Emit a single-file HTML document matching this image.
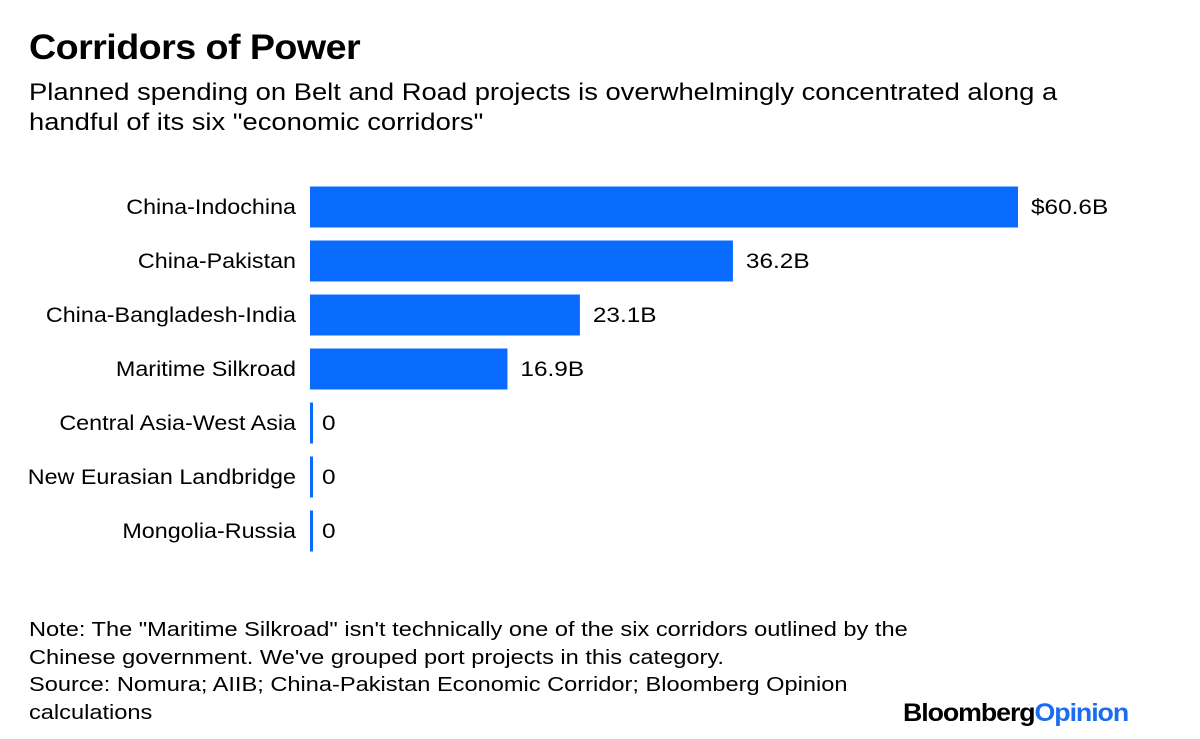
<!DOCTYPE html>
<html><head><meta charset="utf-8"><style>
body{margin:0;width:1200px;height:739px;background:#fff;font-family:"Liberation Sans",sans-serif;color:#000;position:relative;overflow:hidden}
.t{position:absolute;white-space:nowrap;transform-origin:0 0}
</style></head><body>
<div class="t" style="left:29px;top:28px;font-size:35px;font-weight:bold;letter-spacing:-0.5px;transform:scaleX(1.075)">Corridors of Power</div>
<div class="t" style="left:29px;top:78px;font-size:24px;line-height:30px;transform:scaleX(1.14)">Planned spending on Belt and Road projects is overwhelmingly concentrated along a<br>handful of its six "economic corridors"</div>
<svg id="chart" width="1200" height="600" style="position:absolute;left:0;top:0"></svg>
<div class="t" style="left:29px;top:617px;font-size:20px;line-height:27.5px;transform:scaleX(1.18)">Note: The "Maritime Silkroad" isn't technically one of the six corridors outlined by the<br>Chinese government. We've grouped port projects in this category.<br>Source: Nomura; AIIB; China-Pakistan Economic Corridor; Bloomberg Opinion<br>calculations</div>
<div class="t" style="left:903px;top:699px;font-size:25px;font-weight:bold;letter-spacing:-1px;transform:scaleX(1.07)">Bloomberg<span style="color:#1a6cf0">Opinion</span></div>
<script>
const categories=["China-Indochina","China-Pakistan","China-Bangladesh-India","Maritime Silkroad","Central Asia-West Asia","New Eurasian Landbridge","Mongolia-Russia"];
const values=[60.6,36.2,23.1,16.9,0,0,0];
const valueLabels=["$60.6B","36.2B","23.1B","16.9B","0","0","0"];
const svg=document.getElementById('chart');
const NS='http://www.w3.org/2000/svg';
const x0=310,scale=708/60.6;
const xs=v=>Math.max(3,v*scale);
const yc=i=>207+i*54;
function stretch(t,f){const w=t.getComputedTextLength();t.setAttribute('textLength',w*f);t.setAttribute('lengthAdjust','spacingAndGlyphs');}
categories.forEach((c,i)=>{
  const r=document.createElementNS(NS,'rect');
  r.setAttribute('x',x0);r.setAttribute('y',yc(i)-20.5);
  r.setAttribute('width',xs(values[i]));r.setAttribute('height',41);
  r.setAttribute('fill','#0a6cff');
  
  
  svg.appendChild(r);
  const l=document.createElementNS(NS,'text');
  l.setAttribute('x',296);l.setAttribute('y',yc(i)+7);
  l.setAttribute('text-anchor','end');l.setAttribute('font-size','21');
  l.setAttribute('font-family','Liberation Sans, sans-serif');
  l.textContent=c;
  
  
  svg.appendChild(l);
  stretch(l,1.11);
  const v=document.createElementNS(NS,'text');
  v.setAttribute('x',x0+xs(values[i])+(values[i]>0?13:9));v.setAttribute('y',yc(i)+7);
  v.setAttribute('font-size','21');
  v.setAttribute('font-family','Liberation Sans, sans-serif');
  v.textContent=valueLabels[i];
  
  
  svg.appendChild(v);
  stretch(v,1.16);
});
</script>
</body></html>
